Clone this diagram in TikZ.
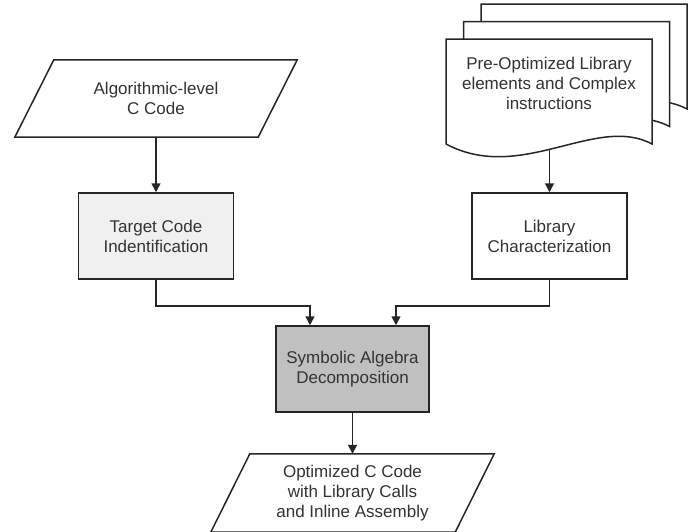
\documentclass[tikz,border=0pt]{standalone}
\usepackage{fontspec}
\setmainfont{Liberation Sans}
\usetikzlibrary{arrows.meta,calc}
\pgfdeclarelayer{bg}
\pgfsetlayers{bg,main}
\definecolor{linec}{HTML}{262626}
\definecolor{textc}{HTML}{333333}
\definecolor{lightc}{HTML}{F0F0F0}
\definecolor{darkc}{HTML}{C0C0C0}
\tikzset{
  line/.style={draw=linec, line width=1.5pt, line join=miter},
  label text/.style={align=center, text=textc, font=\fontsize{17}{20}\selectfont, inner sep=0pt},
  box/.style={line, label text, minimum width=155pt, minimum height=86pt},
  io/.style={inner sep=0pt, minimum width=243pt, minimum height=77pt},
  ghost/.style={inner sep=0pt, minimum width=206pt, minimum height=105pt},
  flow/.style={line, -{Triangle[length=9pt,width=9pt]}}
}
% one sheet of the document stack, top-left corner at (#1,#2)
\newcommand\docsheet[2]{%
  \begin{scope}[shift={(#1,#2)}]
    \draw[line, fill=white] (0,0) -- (206,0) -- (206,105)
      .. controls (150,75) and (75,145) .. (0,105) -- cycle;
  \end{scope}}
\begin{document}
\begin{tikzpicture}[x=1pt,y=-1pt]
\useasboundingbox (0,0) rectangle (691,531);

% input code (parallelogram)
\node[io] (algo) at (156,98.5) {};
\draw[line, fill=white] ([xshift=19.5pt]algo.north west) -- ([xshift=19.5pt]algo.north east)
  -- ([xshift=-19.5pt]algo.south east) -- ([xshift=-19.5pt]algo.south west) -- cycle;
\node[label text] (algotext) at (algo.center) {Algorithmic-level\\C Code};

% stack of library documents
\docsheet{481}{4}
\docsheet{463.5}{21.5}
\docsheet{446}{39}
\node[ghost] (docs) at (549.5,91.5) {};
\node[label text] (docstext) at (549,83) {Pre-Optimized Library\\elements and Complex\\instructions};

% process boxes
\node[box, fill=lightc] (target) at (156,236) {Target Code\\Indentification};
\node[box, fill=white] (libbox) at (549.5,236) {Library\\Characterization};
\node[box, fill=darkc, minimum width=153pt] (sym) at (352.5,369) {Symbolic Algebra\\Decomposition};

% output code (parallelogram)
\node[io, minimum width=244pt, minimum height=78pt] (out) at (352.5,493) {};
\draw[line, fill=white] ([xshift=19.5pt]out.north west) -- ([xshift=19.5pt]out.north east)
  -- ([xshift=-19.5pt]out.south east) -- ([xshift=-19.5pt]out.south west) -- cycle;
\node[label text] (outtext) at (out.center) {Optimized C Code\\with Library Calls\\and Inline Assembly};

\coordinate (symin1) at ([xshift=-42.5pt]sym.north);
\coordinate (symin2) at ([xshift=43.5pt]sym.north);

% connectors
\begin{pgfonlayer}{bg}
\draw[flow] (algo.south) -- (target.north);
\draw[flow] (docs.south) -- (libbox.north);
\draw[flow] (target.south) -- ++(0,26) -| (symin1);
\draw[flow] (libbox.south) -- ++(0,26) -| (symin2);
\draw[flow] (sym.south) -- (out.north);
\end{pgfonlayer}
\end{tikzpicture}
\end{document}
